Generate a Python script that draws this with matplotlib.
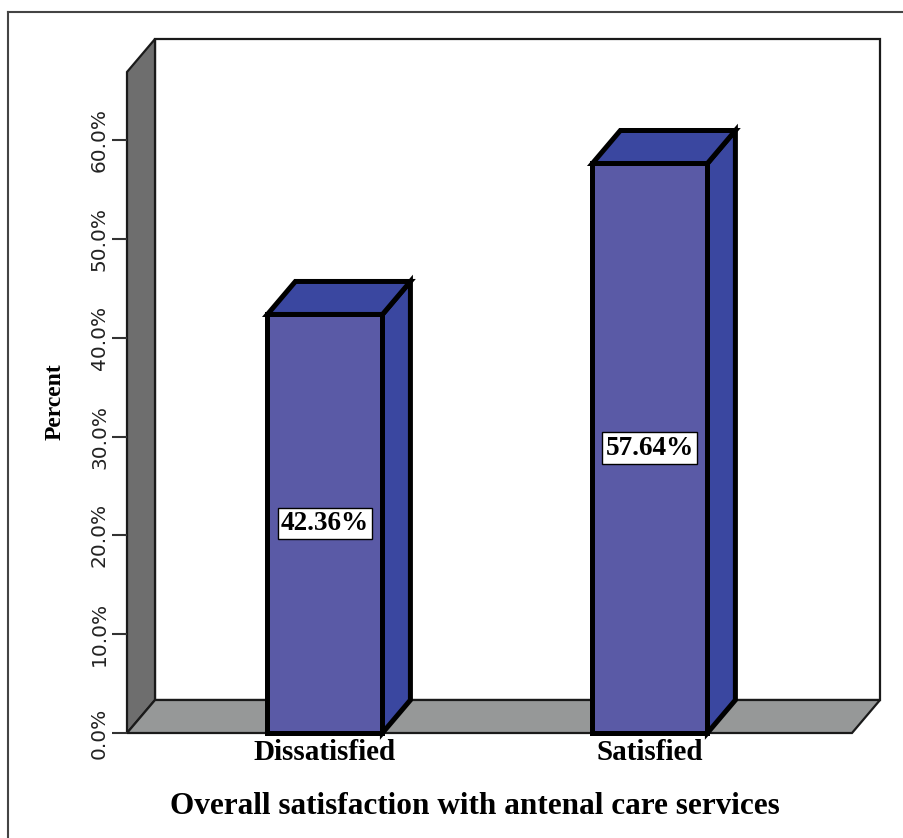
import numpy as np
import matplotlib.pyplot as plt
from matplotlib.patches import Polygon
from matplotlib.lines import Line2D
from matplotlib import transforms

categories = ['Dissatisfied', 'Satisfied']
percent = [42.36, 57.64]
y_ticks = [0, 10, 20, 30, 40, 50, 60]

W, H = 904, 838
DX, DY = 28, 33          # depth of the 3d box, in pixels
BAR_W = 0.354

FRONT = '#5a5aa6'
SIDE = '#3a47a0'
WALL = '#6e6e6e'
FLOOR = '#969898'
SERIF = 'Liberation Serif'

fig = plt.figure(figsize=(W / 100, H / 100), dpi=100)
ax = fig.add_axes([127 / W, 1 - 733 / H, (852 - 127) / W, (733 - 72) / H])
ax.set_xlim(-0.609, 1.622)
ax.set_ylim(0, 66.9)
ax.patch.set_visible(False)
for s in ax.spines.values():
    s.set_visible(False)

ident = transforms.IdentityTransform()


def px(x, y, back=False, axes=False):
    tr = ax.transAxes if axes else ax.transData
    p = tr.transform((x, y))
    if back:
        p = p + np.array([DX, DY])
    return p


def face(pts, color, lw, z, ec='#1a1a1a'):
    ax.add_patch(Polygon(pts, closed=True, facecolor=color, edgecolor=ec,
                         linewidth=lw, transform=ident, clip_on=False,
                         zorder=z, joinstyle='miter'))


# back wall, left wall and floor
face([px(0, 0, True, True), px(1, 0, True, True),
      px(1, 1, True, True), px(0, 1, True, True)], 'white', 1.6, 1)
face([px(0, 0, False, True), px(0, 1, False, True),
      px(0, 1, True, True), px(0, 0, True, True)], WALL, 1.6, 1.1)
face([px(0, 0, False, True), px(1, 0, False, True),
      px(1, 0, True, True), px(0, 0, True, True)], FLOOR, 1.6, 1.2)

# bars
for i, v in enumerate(percent):
    x0, x1 = i - BAR_W / 2, i + BAR_W / 2
    face([px(x1, 0), px(x1, 0, True), px(x1, v, True), px(x1, v)], SIDE, 3.6, 3, 'black')
    face([px(x0, v), px(x1, v), px(x1, v, True), px(x0, v, True)], SIDE, 3.6, 3, 'black')
    face([px(x0, 0), px(x1, 0), px(x1, v), px(x0, v)], FRONT, 3.6, 3.1, 'black')
    ax.text(i, v / 2, f'{v:.2f}%', ha='center', va='center', zorder=5,
            family=SERIF, fontweight='bold', fontsize=19.5,
            bbox=dict(boxstyle='square,pad=0.12', fc='white', ec='black', lw=1))

ax.set_yticks(y_ticks)
ax.set_yticklabels([f'{t:.1f}%' for t in y_ticks], fontsize=14.5,
                   color='#222222', family='DejaVu Sans')
ax.tick_params(axis='y', length=11, width=1.5, color='#333333',
               labelrotation=90, pad=2)
for lab in ax.get_yticklabels():
    lab.set_va('center')

ax.set_xticks(range(len(categories)))
ax.set_xticklabels(categories, family=SERIF, fontweight='bold', fontsize=21)
ax.tick_params(axis='x', length=0, pad=4)

fig.text(55 / W, 1 - 402 / H, 'Percent', rotation=90, ha='center', va='center',
         family=SERIF, fontweight='bold', fontsize=17)
fig.text(475 / W, 1 - 806 / H, 'Overall satisfaction with antenal care services',
         ha='center', va='center', family=SERIF, fontweight='bold', fontsize=22.5)

# outer frame (top and left edges)
fig.add_artist(Line2D([8 / W, 8 / W], [0, 1 - 12 / H], color='#444444', lw=1.5))
fig.add_artist(Line2D([8 / W, 1], [1 - 12 / H, 1 - 12 / H], color='#444444', lw=1.5))

fig.savefig('out.png', dpi=100, facecolor='white')
